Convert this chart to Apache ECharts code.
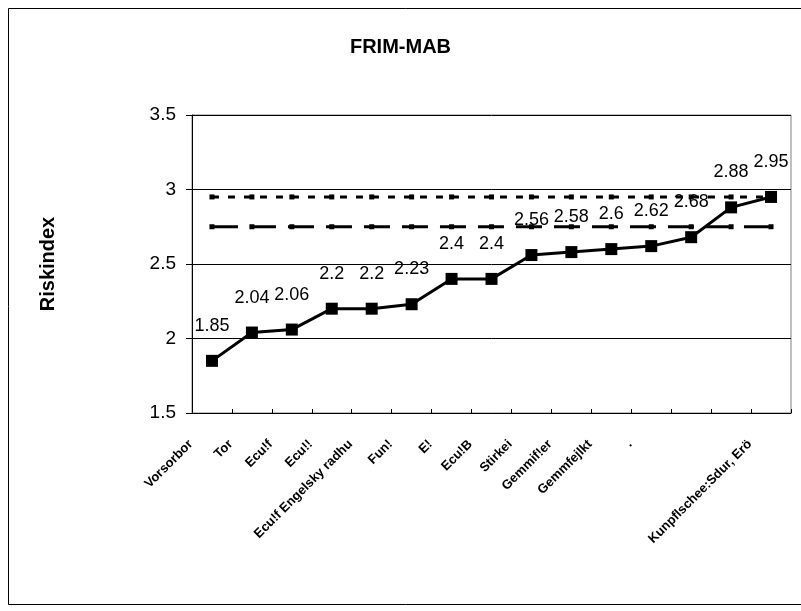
<!DOCTYPE html>
<html>
<head>
<meta charset="utf-8">
<script src="https://cdn.jsdelivr.net/npm/echarts@6/dist/echarts.min.js"></script>
<style>
  html, body { margin: 0; padding: 0; background: #fff; }
  #chart { width: 801px; height: 611px; }
</style>
</head>
<body>
<div id="chart"></div>
<script>
// Categories along the x axis (rotated labels)
const categories = [
  'Vorsorbor', 'Tor', 'Ecu!f', 'Ecu!!', 'Ecu!f Engelsky radhu',
  'Fun!', 'E!', 'Ecu!B', 'Stirkei', 'Gemmif!er',
  'Gemmfejlkt', '.', '', '', 'Kunpflschee:Sdur, Erö'
];

// Risk index per category
const riskValues = [1.85, 2.04, 2.06, 2.2, 2.2, 2.23, 2.4, 2.4, 2.56, 2.58, 2.6, 2.62, 2.68, 2.88, 2.95];

// Horizontal reference levels
const upperLevel = [2.95, 2.95, 2.95, 2.95, 2.95, 2.95, 2.95, 2.95, 2.95, 2.95, 2.95, 2.95, 2.95, 2.95, 2.95];
const lowerLevel = [2.75, 2.75, 2.75, 2.75, 2.75, 2.75, 2.75, 2.75, 2.75, 2.75, 2.75, 2.75, 2.75, 2.75, 2.75];

// Value axis range
const yMin = 1.5, yMax = 3.5, yStep = 0.5;

const chart = echarts.init(document.getElementById('chart'), null, { renderer: 'canvas' });
const font = '"Liberation Sans", Arial, sans-serif';

chart.setOption({
  animation: false,
  backgroundColor: '#fff',
  textStyle: { fontFamily: font },
  title: {
    text: 'FRIM-MAB',
    left: 'center',
    top: 32,
    textStyle: { fontFamily: font, fontSize: 20, fontWeight: 'bold', color: '#000' }
  },
  graphic: [{
    type: 'rect',
    shape: { x: 8.5, y: 8.5, width: 800, height: 596 },
    style: { fill: 'none', stroke: '#000', lineWidth: 1 },
    silent: true,
    z: -1
  }],
  grid: {
    left: 192, right: 10, top: 115, bottom: 198,
    show: true, borderColor: '#808080', borderWidth: 1
  },
  xAxis: {
    type: 'category',
    data: categories,
    boundaryGap: true,
    axisLine: { lineStyle: { color: '#000', width: 1 } },
    axisTick: { show: true, inside: true, length: 4, lineStyle: { color: '#000' } },
    axisLabel: {
      interval: 0, rotate: 45, margin: 8,
      padding: [0, 30, 0, 0],
      fontFamily: font, fontSize: 13, fontWeight: 'bold', color: '#000'
    },
    splitLine: { show: false }
  },
  yAxis: {
    type: 'value',
    min: yMin, max: yMax, interval: yStep,
    name: 'Riskindex',
    nameLocation: 'middle',
    nameGap: 134,
    nameTextStyle: { fontFamily: font, fontSize: 20, fontWeight: 'bold', color: '#000' },
    axisLine: { show: true, lineStyle: { color: '#000', width: 1 } },
    axisTick: { show: true, length: 6, lineStyle: { color: '#000' } },
    axisLabel: { fontFamily: font, fontSize: 19, color: '#000', margin: 16 },
    splitLine: { show: true, lineStyle: { color: '#000', width: 1 } }
  },
  series: [
    {
      name: 'upper',
      type: 'line',
      data: upperLevel,
      symbol: 'rect',
      symbolSize: 5,
      itemStyle: { color: '#000' },
      lineStyle: { color: '#000', width: 3, type: [7, 9] },
      z: 2
    },
    {
      name: 'lower',
      type: 'line',
      data: lowerLevel,
      symbol: 'rect',
      symbolSize: 5,
      itemStyle: { color: '#000' },
      lineStyle: { color: '#000', width: 3, type: [26, 12] },
      z: 2
    },
    {
      name: 'Riskindex',
      type: 'line',
      data: riskValues,
      symbol: 'rect',
      symbolSize: 12,
      itemStyle: { color: '#000' },
      lineStyle: { color: '#000', width: 3 },
      label: {
        show: true, position: 'top', distance: 20,
        fontFamily: font, fontSize: 18, color: '#000'
      },
      z: 3
    }
  ]
});
</script>
</body>
</html>
